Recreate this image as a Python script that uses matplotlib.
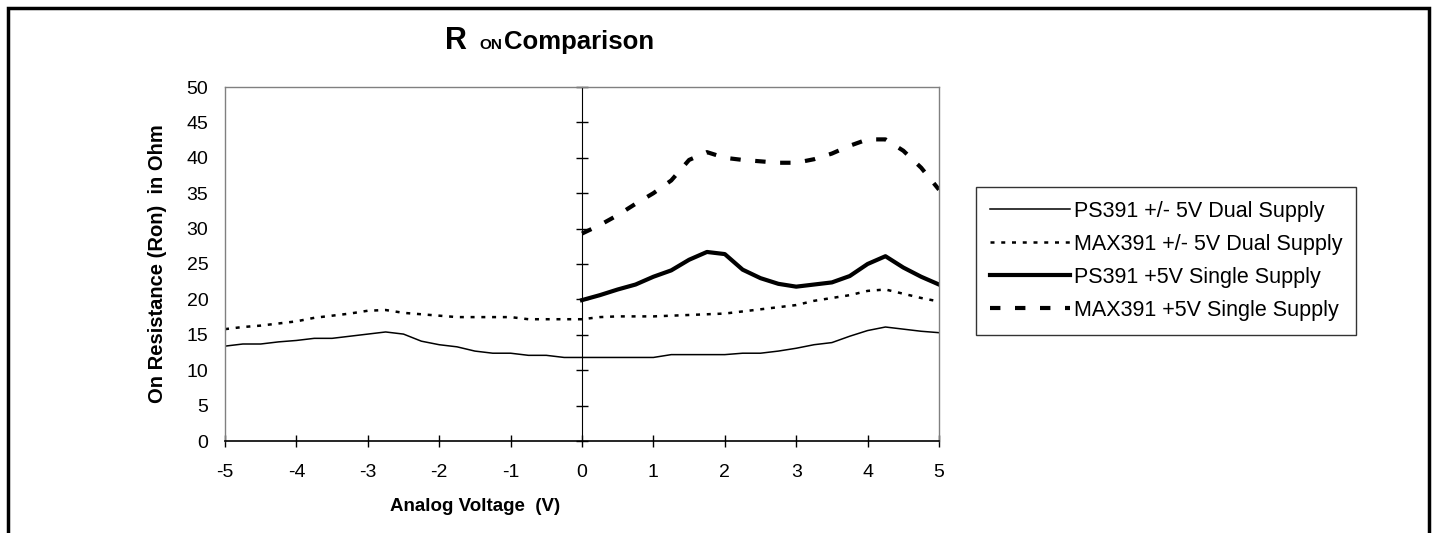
import matplotlib
matplotlib.use("Agg")
import matplotlib.pyplot as plt
from matplotlib.patches import Rectangle

plt.rcParams['font.family'] = ['Liberation Sans', 'DejaVu Sans']
plt.rcParams['axes.unicode_minus'] = False

# Analog voltage (V)
volt_dual = [-5, -4.75, -4.5, -4.25, -4, -3.75, -3.5, -3.25, -3, -2.75, -2.5,
             -2.25, -2, -1.75, -1.5, -1.25, -1, -0.75, -0.5, -0.25, 0,
             0.25, 0.5, 0.75, 1, 1.25, 1.5, 1.75, 2, 2.25, 2.5,
             2.75, 3, 3.25, 3.5, 3.75, 4, 4.25, 4.5, 4.75, 5]
volt_single = [0, 0.25, 0.5, 0.75, 1, 1.25, 1.5, 1.75, 2, 2.25, 2.5,
               2.75, 3, 3.25, 3.5, 3.75, 4, 4.25, 4.5, 4.75, 5]

# On resistance (Ohm)
ps391_dual = [13.4, 13.7, 13.7, 14.0, 14.2, 14.5, 14.5, 14.8, 15.1, 15.4, 15.1,
              14.1, 13.6, 13.3, 12.7, 12.4, 12.4, 12.1, 12.1, 11.8, 11.8,
              11.8, 11.8, 11.8, 11.8, 12.2, 12.2, 12.2, 12.2, 12.4, 12.4,
              12.7, 13.1, 13.6, 13.9, 14.8, 15.6, 16.1, 15.8, 15.5, 15.3]
max391_dual = [15.8, 16.1, 16.3, 16.6, 16.9, 17.4, 17.7, 18.0, 18.4, 18.5, 18.1,
               17.9, 17.7, 17.5, 17.5, 17.5, 17.5, 17.2, 17.2, 17.2, 17.2,
               17.5, 17.6, 17.6, 17.6, 17.7, 17.8, 17.9, 18.0, 18.3, 18.6,
               18.9, 19.2, 19.8, 20.2, 20.6, 21.2, 21.4, 20.8, 20.2, 19.7]
ps391_single = [19.9, 20.6, 21.4, 22.1, 23.2, 24.1, 25.6, 26.7, 26.4, 24.2, 23.0,
                22.2, 21.8, 22.1, 22.4, 23.3, 25.0, 26.1, 24.5, 23.2, 22.1]
max391_single = [29.3, 30.5, 31.9, 33.5, 35.0, 36.8, 39.7, 40.8, 40.0, 39.7, 39.5,
                 39.3, 39.3, 39.8, 40.6, 41.7, 42.6, 42.6, 41.0, 38.6, 35.5]

labels = ["PS391 +/- 5V Dual Supply", "MAX391 +/- 5V Dual Supply",
          "PS391 +5V Single Supply", "MAX391 +5V Single Supply"]

W, H = 1435, 533
fig = plt.figure(figsize=(W / 100, H / 100), dpi=100)
ax = fig.add_axes([225 / W, 1 - 441 / H, (939 - 225) / W, (441 - 87) / H])

ax.plot(volt_dual, ps391_dual, '-', color='black', lw=1.1, label=labels[0])
ax.plot(volt_dual, max391_dual, color='black', lw=1.8,
        linestyle=(0, (1.6, 2.7)), label=labels[1])
ax.plot(volt_single, ps391_single, '-', color='black', lw=3.0, label=labels[2])
ax.plot(volt_single, max391_single, color='black', lw=3.0,
        linestyle=(0, (2.5, 3.5)), label=labels[3])

ax.set_xlim(-5, 5)
ax.set_ylim(0, 50)
ax.set_xticks(range(-5, 6))
ax.set_yticks(range(0, 51, 5))
ax.tick_params(axis='x', direction='inout', length=9, width=1, pad=12, labelsize=14)
ax.tick_params(axis='y', length=0, pad=12, labelsize=14)

for side in ['left', 'top', 'right']:
    ax.spines[side].set_color('#808080')
    ax.spines[side].set_linewidth(1)
ax.spines['bottom'].set_linewidth(1.2)

# value axis crossing at 0 V
yax0 = ax.secondary_yaxis(0.5)
yax0.set_yticks(range(0, 51, 5))
yax0.set_yticklabels([])
yax0.tick_params(direction='inout', length=9, width=1,
                 labelleft=False, labelright=False)
yax0.spines['left'].set_color('#808080')
yax0.spines['left'].set_linewidth(1.8)

ax.set_ylabel("On Resistance (Ron)  in Ohm", fontsize=14.5, fontweight='bold', labelpad=14)
ax.set_xlabel("Analog Voltage  (V)", fontsize=13.5, fontweight='bold')
ax.xaxis.set_label_coords(0.35, -0.16)

# title with smaller "ON"
fig.text(445 / W, 1 - 49 / H, "R", fontsize=22, fontweight='bold', va='baseline')
fig.text(479 / W, 1 - 49 / H, "ON", fontsize=11, fontweight='bold', va='baseline')
fig.text(504 / W, 1 - 49 / H, "Comparison", fontsize=18.5, fontweight='bold', va='baseline')

leg = ax.legend(loc='upper left', bbox_to_anchor=(976 / W, 1 - 187 / H),
                bbox_transform=fig.transFigure, fontsize=15.5, frameon=True,
                fancybox=False, handlelength=3.7, handletextpad=0.2,
                labelspacing=0.55, borderpad=0.65, borderaxespad=0)
leg.get_frame().set_edgecolor('black')
leg.get_frame().set_linewidth(1)

# outer chart border
fig.patches.append(Rectangle((8 / W, -0.05), (1429 - 8) / W, 1.05 - 8 / H,
                             transform=fig.transFigure, fill=False,
                             edgecolor='black', lw=2.5, clip_on=False))

fig.savefig("out.png", dpi=100)
